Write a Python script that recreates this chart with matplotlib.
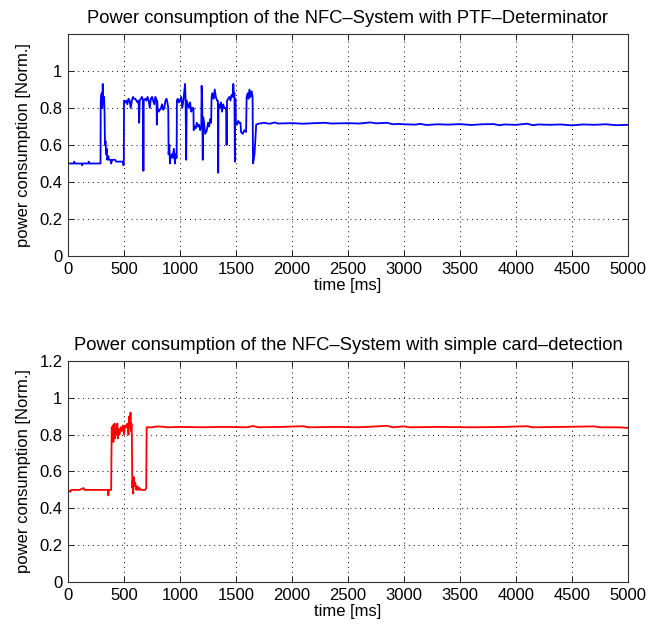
import matplotlib
matplotlib.use("Agg")
import matplotlib.pyplot as plt

# ---- data (time in ms, normalized power) ----
ptf_time = [0, 50, 55, 60, 120, 125, 130, 180, 185, 190, 280, 290,
            292, 300, 305, 310, 315, 322, 326, 330, 335, 340, 345, 350, 360, 365, 380, 385, 395, 420, 430, 460, 490, 495, 498,
            500, 510, 520, 530, 540, 550, 560, 570, 580, 590, 600, 610, 620, 630, 635, 640, 650, 660, 670, 673, 676, 690, 700,
            710, 720, 730, 740, 750, 760, 770, 780, 790, 793, 796, 800, 810, 820, 830, 840, 850, 860, 870, 880, 890, 895,
            898, 905, 910, 915, 925, 935, 945, 955, 960, 970,
            972, 980, 990, 1000, 1010, 1020, 1030, 1045, 1050, 1055, 1060, 1070, 1080, 1090, 1100, 1110, 1120,
            1122, 1130, 1140, 1150, 1160, 1170, 1180, 1190,
            1193, 1198, 1203, 1207, 1215, 1225, 1240, 1250, 1260, 1270, 1278,
            1282, 1290, 1300, 1310, 1320, 1330, 1338, 1341, 1344, 1355, 1365, 1375, 1385, 1395, 1405, 1412, 1416, 1420,
            1430, 1440, 1450, 1460, 1470, 1476, 1482, 1486, 1490, 1494, 1498,
            1500, 1510, 1520, 1530, 1540, 1545, 1560, 1575, 1590, 1595, 1605, 1612, 1620, 1630, 1640, 1648, 1652, 1658,
            1665, 1672, 1680,
            1700, 1750, 1800, 1850, 1870, 2000, 2100, 2200, 2300, 2350, 2500, 2600, 2700, 2750, 2850, 2900, 2950, 3000,
            3100, 3150, 3200, 3300, 3400, 3500, 3600, 3700, 3800, 3850, 3900, 4000, 4100, 4150, 4200, 4300, 4400, 4500,
            4600, 4700, 4800, 4900, 5000]
ptf_power = [0.50, 0.50, 0.51, 0.50, 0.50, 0.49, 0.50, 0.50, 0.51, 0.50, 0.50, 0.50,
             0.84, 0.88, 0.80, 0.93, 0.82, 0.86, 0.78, 0.60, 0.62, 0.55, 0.58, 0.52, 0.54, 0.52, 0.52, 0.50, 0.52, 0.52, 0.51, 0.51, 0.51, 0.49, 0.50,
             0.84, 0.83, 0.84, 0.82, 0.85, 0.84, 0.80, 0.84, 0.86, 0.85, 0.85, 0.84, 0.83, 0.84, 0.72, 0.84, 0.85, 0.86, 0.84, 0.46, 0.84, 0.85, 0.84,
             0.86, 0.84, 0.80, 0.85, 0.86, 0.84, 0.82, 0.86, 0.84, 0.71, 0.84, 0.80, 0.78, 0.79, 0.80, 0.82, 0.79, 0.80, 0.84, 0.85, 0.82, 0.80,
             0.55, 0.60, 0.50, 0.53, 0.55, 0.53, 0.58, 0.50, 0.55, 0.53,
             0.84, 0.85, 0.83, 0.84, 0.86, 0.80, 0.84, 0.93, 0.84, 0.52, 0.84, 0.82, 0.80, 0.83, 0.78, 0.80, 0.80,
             0.68, 0.70, 0.69, 0.72, 0.70, 0.71, 0.68, 0.70,
             0.92, 0.84, 0.52, 0.75, 0.72, 0.66, 0.68, 0.72, 0.70, 0.74, 0.72,
             0.86, 0.88, 0.85, 0.90, 0.86, 0.84, 0.84, 0.45, 0.82, 0.80, 0.83, 0.78, 0.82, 0.80, 0.80, 0.79, 0.60, 0.84,
             0.85, 0.86, 0.84, 0.87, 0.86, 0.93, 0.86, 0.88, 0.51, 0.85, 0.72,
             0.72, 0.71, 0.73, 0.72, 0.72, 0.67, 0.66, 0.68, 0.67, 0.86, 0.88, 0.85, 0.90, 0.86, 0.89, 0.86, 0.50, 0.52,
             0.55, 0.62, 0.71,
             0.715, 0.72, 0.715, 0.722, 0.716, 0.718, 0.715, 0.718, 0.72, 0.716, 0.718, 0.716, 0.722, 0.717, 0.72, 0.712, 0.714, 0.712,
             0.71, 0.714, 0.708, 0.712, 0.71, 0.713, 0.708, 0.712, 0.713, 0.707, 0.711, 0.709, 0.715, 0.707, 0.711, 0.709, 0.711, 0.706,
             0.711, 0.709, 0.712, 0.707, 0.709]

simple_time = [0, 20, 30, 100, 140, 145, 250, 340, 355, 360, 365, 385,
               390, 395, 400, 405, 410, 415, 420, 425, 430, 440, 445, 450, 460, 470, 480, 490, 500, 510, 520, 530, 540, 548,
               552, 558, 563, 567, 570,
               574, 578, 582, 586, 590, 600, 610, 620, 630, 640, 650, 690, 698,
               702, 750, 800, 900, 1000, 1200, 1400, 1600, 1650, 1700, 1900, 2100, 2150, 2400, 2600, 2850, 2900, 3000,
               3050, 3300, 3600, 3900, 4100, 4150, 4400, 4700, 4750, 4900, 5000]
simple_power = [0.50, 0.49, 0.50, 0.50, 0.51, 0.50, 0.50, 0.50, 0.50, 0.47, 0.50, 0.50,
                0.84, 0.80, 0.85, 0.76, 0.82, 0.86, 0.78, 0.83, 0.80, 0.86, 0.78, 0.83, 0.80, 0.84, 0.82, 0.85, 0.80, 0.85, 0.84, 0.86, 0.80, 0.90,
                0.84, 0.92, 0.82, 0.86, 0.80,
                0.51, 0.55, 0.48, 0.57, 0.52, 0.54, 0.50, 0.52, 0.50, 0.51, 0.50, 0.50, 0.51,
                0.84, 0.84, 0.845, 0.84, 0.842, 0.84, 0.842, 0.84, 0.847, 0.84, 0.842, 0.846, 0.84, 0.842, 0.84, 0.848, 0.84, 0.845,
                0.84, 0.842, 0.84, 0.842, 0.846, 0.84, 0.842, 0.845, 0.84, 0.84, 0.837]

x_ticks = [0, 500, 1000, 1500, 2000, 2500, 3000, 3500, 4000, 4500, 5000]
y_ticks_top = [0, 0.2, 0.4, 0.6, 0.8, 1]
y_ticks_bottom = [0, 0.2, 0.4, 0.6, 0.8, 1, 1.2]
y_tick_labels_top = ["0", "0.2", "0.4", "0.6", "0.8", "1"]
y_tick_labels_bottom = ["0", "0.2", "0.4", "0.6", "0.8", "1", "1.2"]

plt.rcParams['font.family'] = ['Liberation Sans', 'DejaVu Sans']
FS = 12

fig = plt.figure(figsize=(6.48, 6.33), dpi=100)
ax1 = fig.add_axes([0.105, 0.5956, 0.864, 0.3507])
ax2 = fig.add_axes([0.105, 0.0806, 0.864, 0.3491])

def style(ax, yticks, ylabels, title):
    ax.set_xlim(0, 5000)
    ax.set_ylim(0, 1.2)
    ax.set_xticks(x_ticks)
    ax.set_xticklabels([str(v) for v in x_ticks], fontsize=FS)
    ax.set_yticks(yticks)
    ax.set_yticklabels(ylabels, fontsize=FS)
    ax.tick_params(direction='in', top=True, right=True, length=4, width=0.6, pad=4)
    ax.grid(True, color='black', linestyle=(0, (1, 4)), linewidth=0.7)
    for s in ax.spines.values():
        s.set_linewidth(0.8)
        s.set_color('#333333')
    ax.set_xlabel('time [ms]', fontsize=FS, labelpad=1)
    ax.set_ylabel('power consumption [Norm.]', fontsize=FS, labelpad=6)
    ax.set_title(title, fontsize=13.2, pad=8)

ax1.plot(ptf_time, ptf_power, color='#0000ff', linewidth=1.3)
style(ax1, y_ticks_top, y_tick_labels_top,
      'Power consumption of the NFC\u2013System with PTF\u2013Determinator')

ax2.plot(simple_time, simple_power, color='#ff0000', linewidth=1.3)
style(ax2, y_ticks_bottom, y_tick_labels_bottom,
      'Power consumption of the NFC\u2013System with simple card\u2013detection')

fig.savefig('out.png', dpi=100)
